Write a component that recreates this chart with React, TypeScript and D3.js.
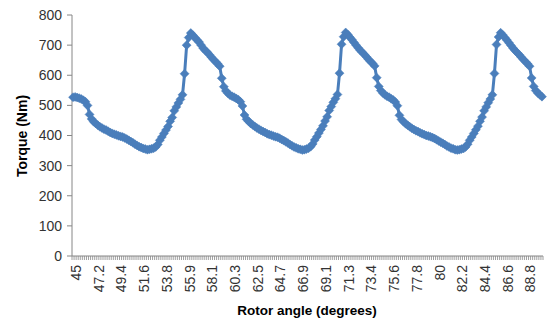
import React from "react";
import * as d3 from "d3";

// Torque (Nm) per sample; three periods of ~75 samples each
const cycle1 = [527,528,526,524,521,517,512,500,470,455,446,440,434,429,425,421,418,414,410,407,404,402,399,397,395,392,388,384,380,376,371,367,363,360,357,355,353,354,356,358,362,370,384,395,407,418,430,447,460,482,495,508,520,535,605,700,725,740,733,725,717,710,700,690,682,676,668,660,652,645,638,630,590,562,548];
const cycle2 = [540,534,530,527,523,519,512,498,468,454,447,440,435,430,425,421,417,413,410,406,403,401,398,396,394,391,387,383,379,375,370,366,362,359,356,354,352,353,355,358,363,372,385,396,408,420,432,448,462,483,496,510,522,536,607,703,728,742,735,726,718,709,700,691,683,676,669,661,653,646,639,631,592,563,549];
const cycle3 = [541,535,530,527,522,518,511,499,467,453,446,439,434,429,424,420,416,413,409,406,403,400,398,396,393,390,386,382,378,374,370,365,362,358,356,353,352,353,355,357,362,371,384,395,407,419,431,447,461,482,495,509,521,535,606,702,727,741,734,725,717,708,699,690,682,675,668,660,652,645,638,630,591,563,549,541,535,529];
const torque = [...cycle1, ...cycle2, ...cycle3];

// Category axis labels shown every 11 samples
const xTickLabels = ["45","47.2","49.4","51.6","53.8","55.9","58.1","60.3","62.5","64.7","66.9","69.1","71.3","73.4","75.6","77.8","80","82.2","84.4","86.6","88.8"];
const labelEvery = 11;
const yTicks = [0,100,200,300,400,500,600,700,800];

const W = 547, H = 322;
const left = 72, right = 543, top = 15, bottom = 256;
const blue = "#4A7EBB";
const axisColor = "#868686";
const textColor = "#333333";
const font = "'Liberation Sans', Arial, sans-serif";

export default function App() {
  const idx = torque.map((_, i) => i);
  const x = d3.scaleBand<number>().domain(idx).range([left, right]).padding(0);
  const y = d3.scaleLinear().domain([0, 800]).range([bottom, top]);
  const cx = (i: number) => (x(i) as number) + x.bandwidth() / 2;
  const line = d3.line<number>().x((_, i) => cx(i)).y((d) => y(d));
  const r = 4.5;
  const diamond = `M0,${-r}L${r},0L0,${r}L${-r},0Z`;
  const boundaries = d3.range(torque.length + 1).map((i) => left + i * x.bandwidth());

  return (
    <svg width={W} height={H} style={{ position: "absolute", left: 0, top: 0, background: "#fff" }} fontFamily={font}>
      <rect width={W} height={H} fill="#fff" />
      {/* Y axis */}
      <line x1={left} x2={left} y1={top} y2={bottom} stroke={axisColor} strokeWidth={1} />
      {yTicks.map((t) => (
        <g key={t}>
          <line x1={left - 5} x2={left} y1={y(t)} y2={y(t)} stroke={axisColor} />
          <text x={left - 10} y={y(t)} dy="0.35em" textAnchor="end" fontSize={14} fill={textColor}>{t}</text>
        </g>
      ))}
      {/* X axis */}
      <line x1={left} x2={right} y1={bottom} y2={bottom} stroke={axisColor} strokeWidth={1} />
      {boundaries.map((bx, i) => (
        <line key={i} x1={bx} x2={bx} y1={bottom} y2={bottom + 4} stroke={axisColor} strokeWidth={0.8} />
      ))}
      {xTickLabels.map((lab, k) => {
        const px = cx(k * labelEvery) + 3;
        const py = 265;
        return (
          <text key={lab} transform={`translate(${px},${py}) rotate(-90)`} textAnchor="end" dy="0.35em" fontSize={14} fill={textColor}>{lab}</text>
        );
      })}
      {/* Series */}
      <path d={line(torque) || ""} fill="none" stroke={blue} strokeWidth={3} strokeLinejoin="round" />
      {torque.map((v, i) => (
        <path key={i} d={diamond} transform={`translate(${cx(i)},${y(v)})`} fill={blue} stroke={blue} strokeWidth={0.5} />
      ))}
      {/* Titles */}
      <text x={307} y={310} dy="0.35em" textAnchor="middle" fontSize={13.5} fontWeight="bold" fill="#000">Rotor angle (degrees)</text>
      <text transform={`translate(22,136) rotate(-90)`} dy="0.35em" textAnchor="middle" fontSize={14} fontWeight="bold" fill="#000">Torque (Nm)</text>
    </svg>
  );
}
